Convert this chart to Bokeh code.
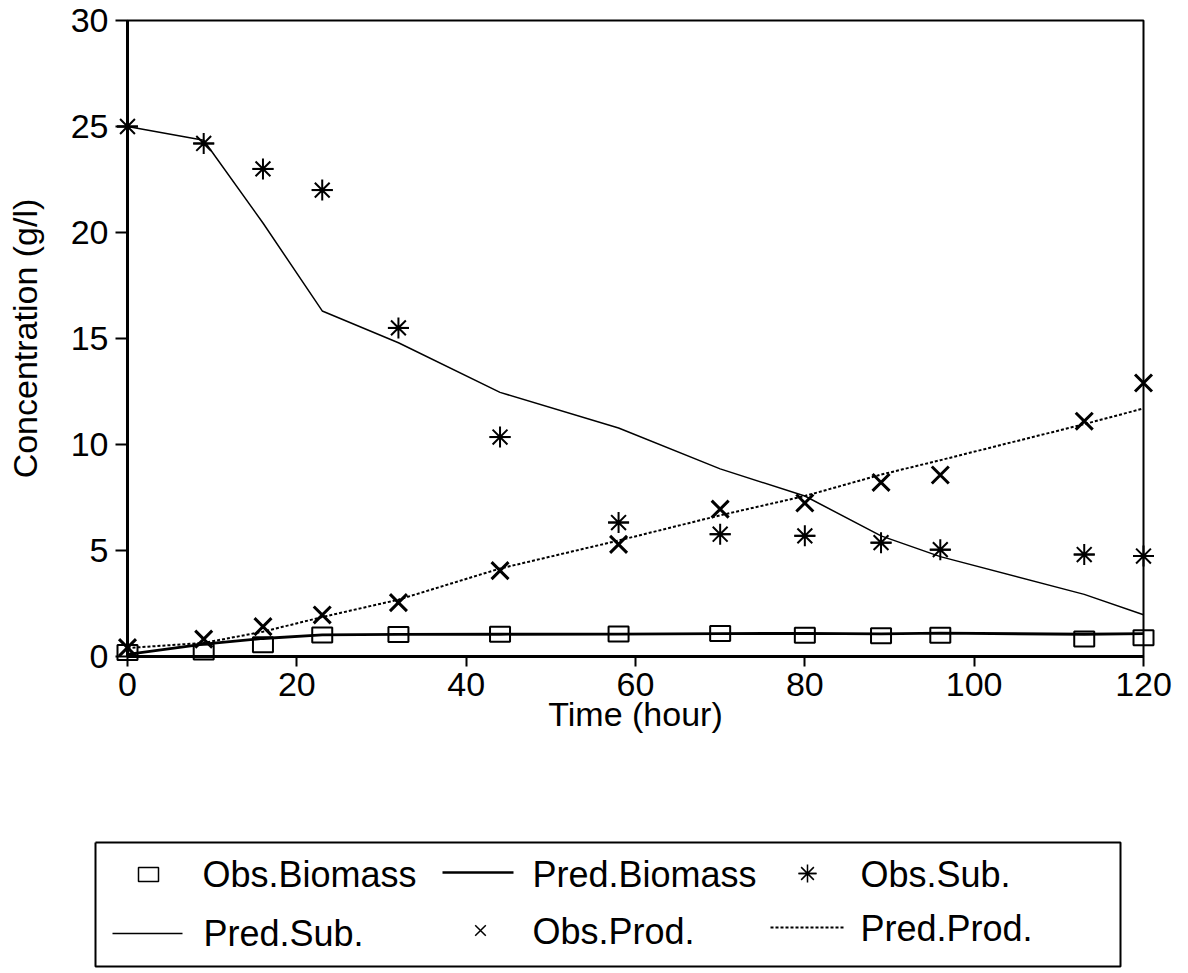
from bokeh.plotting import figure
from bokeh.models import Range1d, FixedTicker, ColumnDataSource
from bokeh.layouts import column
from bokeh.core.properties import value
from bokeh.embed import file_html
from bokeh.resources import INLINE

# ---- data ----
time_h = [0, 9, 16, 23, 32, 44, 58, 70, 80, 89, 96, 113, 120]
obs_biomass = [0.19, 0.21, 0.56, 1.02, 1.04, 1.05, 1.06, 1.08, 1.00, 0.98, 1.00, 0.82, 0.89]
pred_biomass = [0.10, 0.58, 0.85, 1.02, 1.04, 1.05, 1.06, 1.08, 1.09, 1.07, 1.10, 1.05, 1.08]
obs_sub = [25.0, 24.2, 23.0, 22.0, 15.5, 10.35, 6.32, 5.77, 5.69, 5.37, 5.04, 4.81, 4.74]
pred_sub = [25.0, 24.35, 20.45, 16.3, 14.8, 12.46, 10.78, 8.85, 7.57, 5.69, 4.71, 2.93, 1.97]
obs_prod = [0.42, 0.82, 1.41, 1.96, 2.54, 4.05, 5.29, 6.95, 7.24, 8.21, 8.56, 11.1, 12.9]
pred_prod = [0.40, 0.64, 1.17, 1.86, 2.68, 4.15, 5.47, 6.66, 7.57, 8.58, 9.26, 10.96, 11.7]

x_ticks = [0, 20, 40, 60, 80, 100, 120]
y_ticks = [0, 5, 10, 15, 20, 25, 30]
x_label = "Time (hour)"
y_label = "Concentration (g/l)"
legend_labels = ["Obs.Biomass", "Pred.Biomass", "Obs.Sub.", "Pred.Sub.", "Obs.Prod.", "Pred.Prod."]

FONT = "Liberation Sans"
FS = "34px"
LEGEND_FS = "36px"
LEFT, RIGHT, TOP, BOTTOM = 127, 45, 20, 104

src = ColumnDataSource(dict(t=time_h, ob=obs_biomass, pb=pred_biomass, os=obs_sub,
                            ps=pred_sub, op=obs_prod, pp=pred_prod))

p = figure(width=1188, height=760, x_range=Range1d(0, 120), y_range=Range1d(0, 30),
           output_backend="svg", toolbar_location=None,
           min_border_left=LEFT, min_border_right=RIGHT, min_border_top=TOP, min_border_bottom=BOTTOM)
p.background_fill_color = "white"
p.border_fill_color = "white"
p.outline_line_color = "black"
p.outline_line_width = 2
p.xgrid.visible = False
p.ygrid.visible = False

for ax in (p.xaxis[0], p.yaxis[0]):
    ax.axis_line_width = 3
    ax.axis_line_color = "black"
    ax.major_tick_line_width = 2
    ax.major_tick_line_color = "black"
    ax.major_tick_in = 0
    ax.minor_tick_line_color = None
    ax.major_label_text_font = FONT
    ax.major_label_text_font_size = FS
    ax.major_label_text_color = "black"
    ax.axis_label_text_font = FONT
    ax.axis_label_text_font_size = FS
    ax.axis_label_text_font_style = "normal"
    ax.axis_label_text_color = "black"

p.xaxis.ticker = FixedTicker(ticks=x_ticks)
p.yaxis.ticker = FixedTicker(ticks=y_ticks)
p.xaxis.major_tick_out = 10
p.yaxis.major_tick_out = 12
p.xaxis.major_label_standoff = 6
p.yaxis.major_label_standoff = 7
p.xaxis.axis_label = x_label
p.yaxis.axis_label = y_label
p.xaxis.axis_label_standoff = -4
p.yaxis.axis_label_standoff = 24

# predicted lines
p.line("t", "pb", source=src, line_color="black", line_width=2.8)
p.line("t", "ps", source=src, line_color="black", line_width=1.5)
p.line("t", "pp", source=src, line_color="black", line_width=2, line_dash="3 2")

# observed markers
r1 = p.rect("t", "ob", source=src, width=20, height=15, width_units="screen", height_units="screen",
            fill_alpha=0, line_color="black", line_width=2)
r2 = p.scatter("t", "os", source=src, marker="asterisk", size=21, line_color="black", line_width=2)
r3 = p.scatter("t", "os", source=src, marker="dash", size=21, line_color="black", line_width=2)
r4 = p.scatter("t", "op", source=src, marker="x", size=24, line_color="black", line_width=3)
for r in (r1, r2, r3, r4):
    r.level = "overlay"

# ---- legend panel (coordinates = page pixels) ----
LH = 213
q = figure(width=1188, height=LH, x_range=Range1d(LEFT, 1188 - RIGHT), y_range=Range1d(LH, 0),
           output_backend="svg", toolbar_location=None,
           min_border_left=LEFT, min_border_right=RIGHT, min_border_top=0, min_border_bottom=0,
           x_axis_location=None, y_axis_location=None)
q.outline_line_color = None
q.xgrid.visible = False
q.ygrid.visible = False
q.background_fill_color = "white"
q.border_fill_color = "white"

rs = []
# box
rs.append(q.line([95, 1120, 1120, 95, 95], [82, 82, 206, 206, 82], line_color="black", line_width=2))
# row 1
rs.append(q.rect([148], [114], width=20, height=14, width_units="screen", height_units="screen",
                 fill_alpha=0, line_color="black", line_width=1.5))
rs.append(q.line([442, 513], [112, 112], line_color="black", line_width=2.5))
rs.append(q.scatter([807], [113], marker="asterisk", size=18, line_color="black", line_width=1.5))
rs.append(q.scatter([807], [113], marker="dash", size=18, line_color="black", line_width=1.5))
# row 2
rs.append(q.line([112, 182], [173, 173], line_color="black", line_width=1.5))
rs.append(q.scatter([480], [170], marker="x", size=15, line_color="black", line_width=1.5))
rs.append(q.line([770, 843], [167, 167], line_color="black", line_width=2, line_dash="3 2"))

rs.append(q.text(x=[202, 532, 860, 203, 532, 860], y=[114, 114, 114, 173, 171, 168], text=legend_labels,
                 text_font=value(FONT), text_font_size=value(LEGEND_FS), text_color="black",
                 text_baseline="middle", text_align="left"))
for r in rs:
    r.level = "overlay"

layout = column(p, q, spacing=0)
open("out.html", "w").write(file_html(layout, INLINE))
